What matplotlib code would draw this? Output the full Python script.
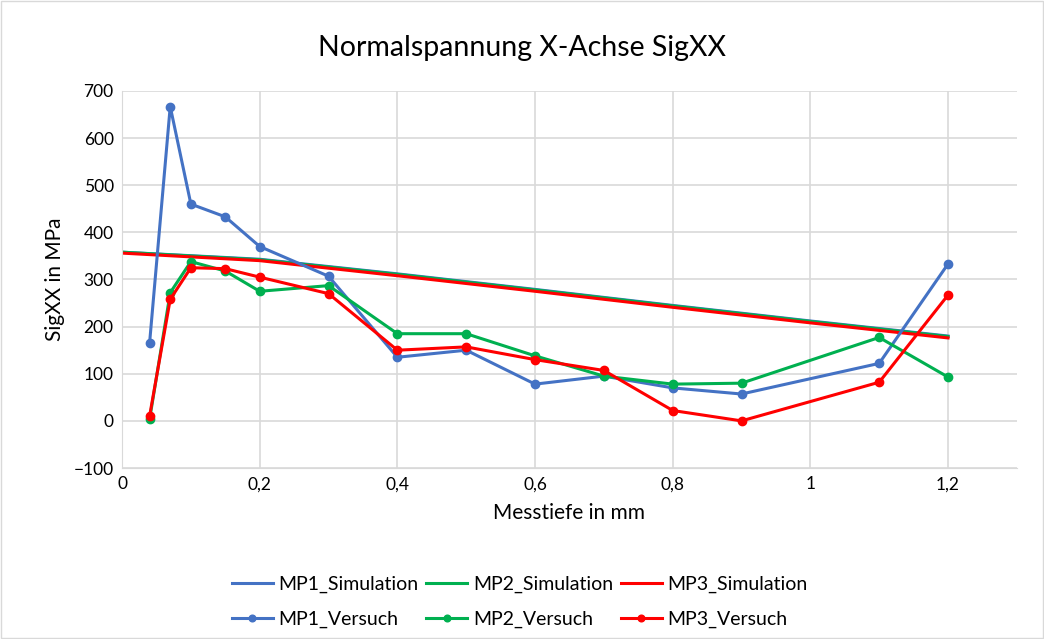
"""Normalspannung X-Achse SigXX: Simulation vs. Versuch an drei Messpunkten."""
import matplotlib
matplotlib.use("Agg")
import matplotlib.pyplot as plt
from matplotlib.patches import Rectangle
from matplotlib.ticker import FuncFormatter

# Simulation (Messtiefe in mm)
sim_depth = [0.0, 0.2, 0.4, 0.6, 0.8, 1.0, 1.2]
mp1_sim = [358, 343, 312, 279, 245, 212, 180]
mp2_sim = [358, 342, 311, 278, 244, 211, 179]
mp3_sim = [356, 340, 308, 275, 241, 208, 176]

# Versuch
test_depth = [0.04, 0.07, 0.1, 0.15, 0.2, 0.3, 0.4, 0.5, 0.6, 0.7, 0.8, 0.9, 1.1, 1.2]
mp1_test = [165, 667, 460, 433, 370, 307, 135, 150, 78, 95, 70, 57, 122, 333]
mp2_test = [3, 272, 338, 318, 275, 287, 185, 185, 138, 95, 78, 80, 177, 93]
mp3_test = [10, 258, 325, 323, 305, 270, 150, 157, 130, 107, 22, 0, 82, 267]

BLUE, GREEN, RED = "#4472C4", "#00B050", "#FF0000"

plt.rcParams["font.family"] = ["Lato", "DejaVu Sans"]

fig = plt.figure(figsize=(10.44, 6.39), dpi=100)
fig.patches.append(Rectangle((0.001, 0.001), 0.998, 0.998, transform=fig.transFigure,
                             fill=False, edgecolor="#d9d9d9", linewidth=1))
ax = fig.add_axes([0.1169, 0.2676, 0.8571, 0.59])

h1, = ax.plot(sim_depth, mp1_sim, color=BLUE, lw=2.2, label="MP1_Simulation")
h2, = ax.plot(sim_depth, mp2_sim, color=GREEN, lw=2.2, label="MP2_Simulation")
h3, = ax.plot(sim_depth, mp3_sim, color=RED, lw=2.2, label="MP3_Simulation")
v1, = ax.plot(test_depth, mp1_test, color=BLUE, lw=2.2, marker="o", ms=6, label="MP1_Versuch")
v2, = ax.plot(test_depth, mp2_test, color=GREEN, lw=2.2, marker="o", ms=6, label="MP2_Versuch")
v3, = ax.plot(test_depth, mp3_test, color=RED, lw=2.2, marker="o", ms=6, label="MP3_Versuch")

ax.set_xlim(0, 1.3)
ax.set_ylim(-100, 700)
ax.set_xticks([0, 0.2, 0.4, 0.6, 0.8, 1.0, 1.2])
ax.set_yticks(range(-100, 701, 100))
ax.xaxis.set_major_formatter(FuncFormatter(lambda v, _: f"{v:g}".replace(".", ",")))
ax.grid(color="#d9d9d9", lw=1.2)
ax.set_axisbelow(True)
for side in ("top", "right"):
    ax.spines[side].set_visible(False)
for side in ("left", "bottom"):
    ax.spines[side].set_color("#d9d9d9")
ax.tick_params(length=0, labelsize=12.5, labelcolor="black", pad=6)

ax.set_xlabel("Messtiefe in mm", fontsize=15, labelpad=8)
ax.set_ylabel("SigXX in MPa", fontsize=15, labelpad=6)
fig.suptitle("Normalspannung X-Achse SigXX", fontsize=20.5, y=0.945)

leg = fig.legend([h1, v1, h2, v2, h3, v3],
                 [h.get_label() for h in (h1, v1, h2, v2, h3, v3)],
                 loc="center", bbox_to_anchor=(0.498, 0.058), ncol=3, frameon=False,
                 fontsize=14, handlelength=2.1, columnspacing=0.4, handletextpad=0.3,
                 labelspacing=0.9, markerscale=0.8)

fig.savefig("out.png", dpi=100)
